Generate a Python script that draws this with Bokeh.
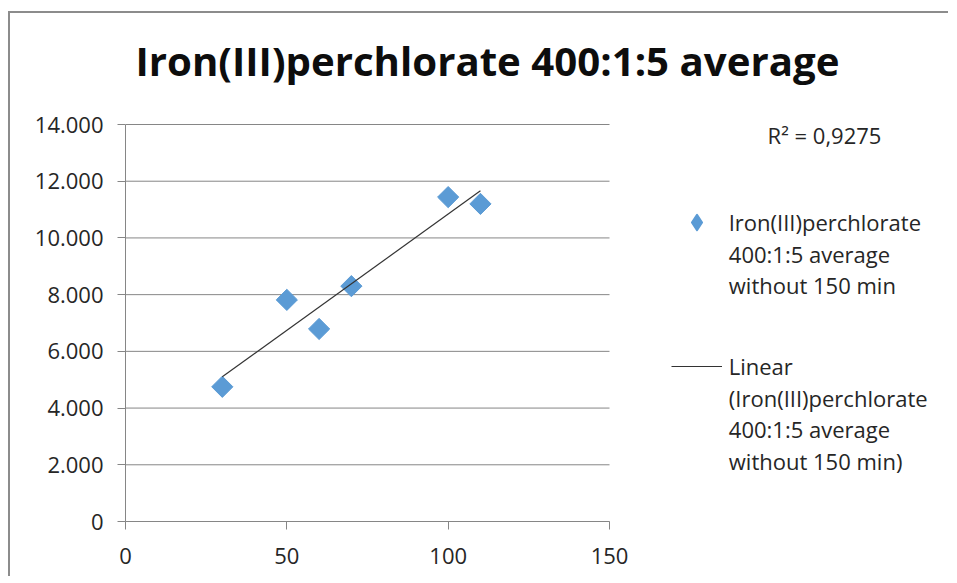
import numpy as np
from bokeh.plotting import figure
from bokeh.models import ColumnDataSource, FixedTicker, Label, Legend, LegendItem, Range1d
from bokeh.embed import file_html
from bokeh.resources import INLINE

# ---------------- data ----------------
TITLE = "Iron(III)perchlorate 400:1:5 average"
TIME_MIN = [30, 50, 60, 70, 100, 110]
AVERAGE = [4750, 7815, 6790, 8300, 11440, 11200]
X_TICKS = [0, 50, 100, 150]
Y_TICKS = [0, 2000, 4000, 6000, 8000, 10000, 12000, 14000]
Y_TICK_LABELS = ["0", "2.000", "4.000", "6.000", "8.000", "10.000", "12.000", "14.000"]
SERIES_LABEL = ["Iron(III)perchlorate", "400:1:5 average", "without 150 min"]
TREND_LABEL = ["Linear", "(Iron(III)perchlorate", "400:1:5 average", "without 150 min)"]
R2_TEXT = "R\u00b2 = 0,9275"

# ---------------- style / layout ----------------
GRAY = "#868686"
BLUE = "#5B9BD5"
TXT = "#262626"
FONT = "Open Sans"

W, H = 945, 565
LEFT, TOP, BOTTOM = 115, 0, 57
PLOT_W, PLOT_H = 484, 397         # pixel size of the 0..150 x 0..14000 axes
frame_w, frame_h = W - LEFT, H - TOP - BOTTOM
x_end = X_TICKS[-1] * frame_w / PLOT_W
y_end = Y_TICKS[-1] * frame_h / PLOT_H

p = figure(width=W, height=H, output_backend="svg", toolbar_location=None,
           x_range=Range1d(X_TICKS[0], x_end), y_range=Range1d(Y_TICKS[0], y_end),
           min_border_left=LEFT, min_border_right=0, min_border_top=TOP, min_border_bottom=BOTTOM)
p.title_location = None
p.styles = {"margin-left": "10px", "margin-top": "13px", "overflow": "hidden",
            "box-shadow": "-2px -2px 0px 0px #8c8c8c",
            "clip-path": "inset(-3px 7px 0px -3px)"}
p.outline_line_color = None
p.background_fill_color = "white"
p.border_fill_color = "white"

p.xgrid.visible = False
p.ygrid.visible = False

# horizontal gridlines limited to the 0..150 x axis
grid_src = ColumnDataSource(dict(x0=[X_TICKS[0]] * len(Y_TICKS), x1=[X_TICKS[-1]] * len(Y_TICKS),
                                 y=Y_TICKS))
p.segment(x0="x0", x1="x1", y0="y", y1="y", source=grid_src, line_color=GRAY, line_width=1)

for ax in (p.xaxis[0], p.yaxis[0]):
    ax.axis_line_color = GRAY
    ax.axis_line_width = 1
    ax.major_tick_line_color = GRAY
    ax.minor_tick_line_color = None
    ax.major_tick_in = 0
    ax.major_tick_out = 8
    ax.major_label_text_font = FONT
    ax.major_label_text_font_size = "22px"
    ax.major_label_text_color = TXT
p.xaxis.ticker = FixedTicker(ticks=X_TICKS)
p.xaxis.bounds = (X_TICKS[0], X_TICKS[-1])
p.yaxis.ticker = FixedTicker(ticks=Y_TICKS)
p.yaxis.bounds = (Y_TICKS[0], Y_TICKS[-1])
p.yaxis.major_label_overrides = dict(zip(Y_TICKS, Y_TICK_LABELS))
p.yaxis.major_label_standoff = 14
p.xaxis.major_label_standoff = 18

src = ColumnDataSource(dict(x=TIME_MIN, y=AVERAGE))

# legend key for the series: legend keys are drawn unrotated, so a zero-size diamond
# renderer on the same data supplies the key (hidden under the real markers in the plot)
key = p.scatter("x", "y", source=src, marker="diamond", size=0,
                fill_color=BLUE, line_color=BLUE, line_width=2, line_join="round")

pts = p.scatter("x", "y", source=src, marker="square", size=15, angle=np.pi / 4,
                fill_color=BLUE, line_color=BLUE)

slope, intercept = np.polyfit(TIME_MIN, AVERAGE, 1)
tx = [min(TIME_MIN), max(TIME_MIN)]
trend = p.line(tx, [slope * v + intercept for v in tx], line_color="#333333", line_width=1.2)

GH = 38
legend = Legend(items=[LegendItem(label=SERIES_LABEL[0], renderers=[key]),
                       LegendItem(label=TREND_LABEL[0], renderers=[trend])],
                location=(545.7, 136.1), orientation="vertical",
                glyph_width=51, glyph_height=GH, label_height=GH, label_standoff=7,
                spacing=106, padding=0, margin=0, border_line_color=None,
                background_fill_alpha=0,
                label_text_font=FONT, label_text_font_size="22px", label_text_color=TXT)
p.add_layout(legend)

def add_text(x, y, text, align="left", size="22px", style="normal", baseline="middle",
             color=TXT):
    p.add_layout(Label(x=x, y=y, x_units="screen", y_units="screen", text=text,
                       text_align=align, text_baseline=baseline, text_font=FONT,
                       text_font_size=size, text_font_style=style, text_color=color))

# chart title
add_text(10, 461, TITLE, size="40.2px", style="bold", baseline="alphabetic", color="#0d0d0d")

for i, t in enumerate(SERIES_LABEL[1:]):
    add_text(603.3, 267.9 - 31.7 * i, t)
for i, t in enumerate(TREND_LABEL[1:]):
    add_text(603.3, 123.8 - 31.7 * i, t)
add_text(699, 387, R2_TEXT, align="center")

open("out.html", "w").write(file_html(p, INLINE))
